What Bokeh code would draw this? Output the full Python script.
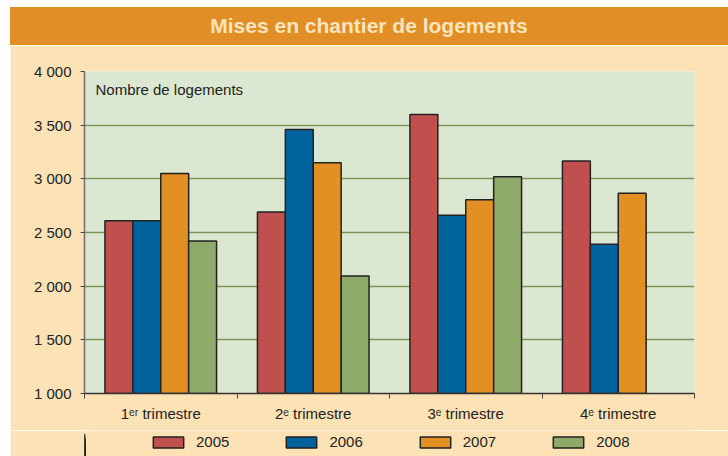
from bokeh.plotting import figure
from bokeh.models import ColumnDataSource, FixedTicker, Legend, LegendItem, Label, Range1d, Div
from bokeh.layouts import column
from bokeh.transform import dodge
from bokeh.embed import file_html
from bokeh.resources import INLINE

# ---------------- data ----------------
title_text = "Mises en chantier de logements"
unit_text = "Nombre de logements"
quarters = ["1ᵉʳ trimestre", "2ᵉ trimestre", "3ᵉ trimestre", "4ᵉ trimestre"]
years = ["2005", "2006", "2007", "2008"]
v2005 = [2610, 2690, 3600, 3165]
v2006 = [2610, 3460, 2660, 2390]
v2007 = [3050, 3150, 2805, 2865]
v2008 = [2420, 2095, 3020, None]
y_ticks = [1000, 1500, 2000, 2500, 3000, 3500, 4000]
y_tick_labels = ["1 000", "1 500", "2 000", "2 500", "3 000", "3 500", "4 000"]
series = {"2005": v2005, "2006": v2006, "2007": v2007, "2008": v2008}

colors = {"2005": "#C0504D", "2006": "#00639E", "2007": "#E28F24", "2008": "#8DAA68"}
FONT = "Liberation Sans"
ORANGE = "#E08E25"
CREAM = "#FDE2B5"
PLOTBG = "#DCE7D1"
GRID = "#7B9658"
BAR_LINE = "#222222"

# ---------------- title band ----------------
band = Div(text=title_text, width=718, height=38, margin=(7, 0, 0, 10),
           styles={"background-color": ORANGE, "color": "#FCE4BD", "font-family": FONT,
                   "font-weight": "bold", "font-size": "21px", "text-align": "center",
                   "line-height": "38px", "width": "718px", "height": "38px"})

# ---------------- main chart ----------------
y_start, y_end = y_ticks[0], y_ticks[-1]
p = figure(width=718, height=385, x_range=Range1d(0, len(quarters)),
           y_range=Range1d(y_start, y_end), output_backend="svg", toolbar_location=None,
           min_border_left=74, min_border_right=34, min_border_top=26, min_border_bottom=37,
           margin=(0, 0, 0, 10))
p.background_fill_color = PLOTBG
p.border_fill_color = CREAM
p.outline_line_color = None

xs = [i + 0.5 for i in range(len(quarters))]
bar_w = 0.183
sources = {}
for k, yr in enumerate(years):
    vals = series[yr]
    xx = [x for x, v in zip(xs, vals) if v is not None]
    vv = [v for v in vals if v is not None]
    sources[yr] = ColumnDataSource(dict(x=xx, top=vv))
    p.vbar(x=dodge("x", (k - 1.5) * bar_w, range=p.x_range), top="top", bottom=y_start,
           width=bar_w, source=sources[yr], fill_color=colors[yr], line_color=BAR_LINE,
           line_width=1.5)

# y axis
p.yaxis.ticker = FixedTicker(ticks=y_ticks)
p.yaxis.major_label_overrides = {t: l for t, l in zip(y_ticks, y_tick_labels)}
p.yaxis.major_label_text_font = FONT
p.yaxis.major_label_text_font_size = "15px"
p.yaxis.major_label_text_color = "#222222"
p.yaxis.axis_line_color = "#6E6E6E"
p.yaxis.axis_line_width = 1.5
p.yaxis.major_tick_line_color = "#444444"
p.yaxis.major_tick_out = 4
p.yaxis.major_tick_in = 0
p.yaxis.minor_tick_line_color = None
p.yaxis.major_label_standoff = 9

# x axis
p.xaxis.ticker = FixedTicker(ticks=xs, minor_ticks=list(range(len(quarters) + 1)))
p.xaxis.major_label_overrides = {x: q for x, q in zip(xs, quarters)}
p.xaxis.major_label_text_font = FONT
p.xaxis.major_label_text_font_size = "15px"
p.xaxis.major_label_text_color = "#222222"
p.xaxis.axis_line_color = "#333333"
p.xaxis.axis_line_width = 1.5
p.xaxis.major_tick_line_color = None
p.xaxis.minor_tick_line_color = "#444444"
p.xaxis.minor_tick_out = 5
p.xaxis.minor_tick_in = 0
p.xaxis.major_label_standoff = 5

p.xgrid.visible = False
p.ygrid.ticker = FixedTicker(ticks=y_ticks)
p.ygrid.grid_line_color = GRID
p.ygrid.grid_line_width = 1.5

p.add_layout(Label(x=0, y=y_end, x_offset=11, y_offset=-9, text=unit_text,
                   text_baseline="top", text_font=FONT, text_font_size="15px",
                   text_color="#222222"))

# ---------------- legend strip (keys of the same series; its x window lies beside the bars) ----------------
lg = figure(width=718, height=26, x_range=Range1d(len(quarters), 2 * len(quarters)),
            y_range=Range1d(y_start, y_end),
            output_backend="svg", toolbar_location=None,
            min_border_left=74, min_border_right=34, min_border_top=0, min_border_bottom=0,
            margin=(0, 0, 0, 10))
lg.axis.visible = False
lg.grid.visible = False
lg.outline_line_color = None
lg.background_fill_color = CREAM
lg.border_fill_color = CREAM
items = []
for k, yr in enumerate(years):
    r = lg.vbar(x=dodge("x", (k - 1.5) * bar_w, range=lg.x_range), top="top", bottom=y_start,
                width=bar_w, source=sources[yr],
                fill_color=colors[yr], line_color=BAR_LINE, line_width=1.5)
    items.append(LegendItem(label=yr, renderers=[r]))
legend = Legend(items=items, orientation="horizontal", location=(65, 6), spacing=53,
                glyph_width=38, glyph_height=14, label_height=14, label_standoff=9,
                label_text_font=FONT, label_text_font_size="15px", label_text_color="#222222",
                border_line_alpha=0, background_fill_alpha=0, margin=0, padding=0)
lg.add_layout(legend, "center")

layout = column(band, p, lg)

open("out.html", "w").write(file_html(layout, INLINE))
